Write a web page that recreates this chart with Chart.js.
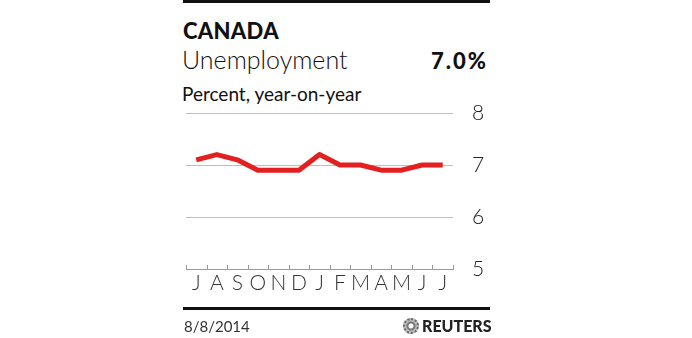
<!DOCTYPE html>
<html>
<head>
<meta charset="utf-8">
<script src="https://cdn.jsdelivr.net/npm/chart.js@4/dist/chart.umd.min.js"></script>
<style>
  html, body { margin: 0; padding: 0; background: #fff; }
  body { width: 692px; height: 338px; position: relative; overflow: hidden; font-family: Lato, "Open Sans", sans-serif; color: #111; }
  .abs { position: absolute; white-space: nowrap; }
  .rule { position: absolute; left: 183px; width: 307px; height: 3px; background: #111; }
  #title { left: 183px; top: 17px; font-size: 22px; font-weight: 900; letter-spacing: 0.3px; }
  #subtitle { left: 182px; top: 44px; font-size: 25px; font-weight: 300; }
  #latest { right: 204px; top: 47px; font-size: 22px; font-weight: 900; letter-spacing: 2px; }
  #units { left: 182px; top: 82px; font-size: 19px; font-weight: 400; }
  #date { left: 184px; top: 317px; font-size: 15px; color: #333; }
  #brand { left: 403px; top: 316px; font-size: 16px; font-weight: 900; color: #222; display: flex; align-items: center; gap: 3px; }
  #logo { width: 16px; height: 16px; border-radius: 50%; border: 2px dotted #666; box-sizing: border-box; background: radial-gradient(circle, #fff 0 2px, #777 3px 4px, #bbb 5px); }
  #wrap { position: absolute; left: 0; top: 0; width: 692px; height: 338px; }
</style>
</head>
<body>
<div class="rule" style="top:0"></div>
<div id="title" class="abs">CANADA</div>
<div id="subtitle" class="abs">Unemployment</div>
<div id="latest" class="abs">7.0%</div>
<div id="units" class="abs">Percent, year-on-year</div>
<div id="wrap"><canvas id="chart"></canvas></div>
<div class="rule" style="top:307px"></div>
<div id="date" class="abs">8/8/2014</div>
<div id="brand" class="abs"><span id="logo"></span><span>REUTERS</span></div>
<script>
// Monthly unemployment rate, July 2013 - July 2014
const months = ['J', 'A', 'S', 'O', 'N', 'D', 'J', 'F', 'M', 'A', 'M', 'J', 'J'];
const rates = [7.1, 7.2, 7.1, 6.9, 6.9, 6.9, 7.2, 7.0, 7.0, 6.9, 6.9, 7.0, 7.0];
const yTicks = [5, 6, 7, 8];

// short upward tick marks on the category boundaries of the x axis
const boundaryTicks = {
  id: 'boundaryTicks',
  afterDraw(chart) {
    const x = chart.scales.x;
    const ctx = chart.ctx;
    const step = (x.right - x.left) / months.length;
    ctx.save();
    ctx.strokeStyle = '#999';
    ctx.lineWidth = 1;
    ctx.beginPath();
    for (let i = 0; i <= months.length; i++) {
      const px = Math.round(x.left + i * step) + 0.5;
      ctx.moveTo(px, x.top);
      ctx.lineTo(px, x.top - 4);
    }
    ctx.stroke();
    ctx.restore();
  }
};

new Chart(document.getElementById('chart'), {
  type: 'line',
  data: {
    labels: months,
    datasets: [{
      data: rates,
      borderColor: '#e3201f',
      borderWidth: 5,
      pointRadius: 0,
      tension: 0,
      borderJoinStyle: 'round',
      borderCapStyle: 'butt'
    }]
  },
  options: {
    responsive: true,
    maintainAspectRatio: false,
    animation: false,
    layout: { padding: { left: 186, top: 113, right: 192, bottom: 40 } },
    plugins: { legend: { display: false }, tooltip: { enabled: false } },
    scales: {
      x: {
        offset: true,
        grid: { display: false, drawTicks: false },
        border: { display: true, color: '#999', width: 1 },
        ticks: {
          padding: 2,
          color: '#333',
          font: { family: 'Lato', size: 21, weight: 300 },
          autoSkip: false,
          maxRotation: 0
        },
        afterFit(scale) { scale.height = 29; }
      },
      y: {
        position: 'right',
        min: 5,
        max: 8,
        afterBuildTicks(scale) { scale.ticks = yTicks.map(v => ({ value: v })); },
        grid: {
          color: ctx => ctx.tick && ctx.tick.value === 5 ? 'rgba(0,0,0,0)' : '#bdbdbd',
          drawTicks: false
        },
        border: { display: false },
        ticks: {
          padding: 19,
          color: '#222',
          font: { family: 'Lato', size: 21, weight: 300 }
        },
        afterFit(scale) { scale.width = 47; }
      }
    }
  },
  plugins: [boundaryTicks]
});
</script>
</body>
</html>
